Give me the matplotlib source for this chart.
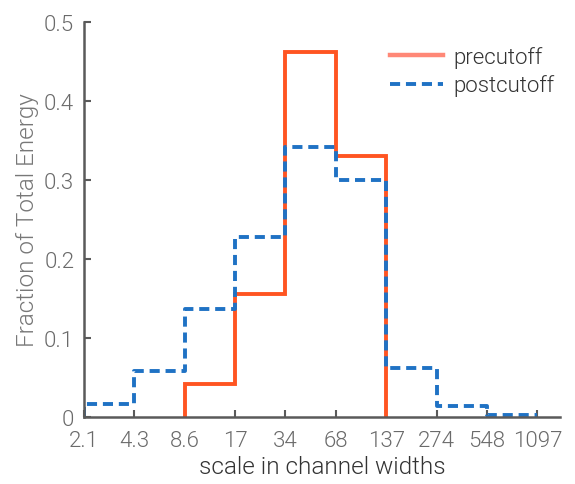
import matplotlib
matplotlib.use("Agg")
import matplotlib.pyplot as plt
import numpy as np

# bin edges (channel widths) and energy fractions per bin
edges = ["2.1", "4.3", "8.6", "17", "34", "68", "137", "274", "548", "1097"]
precutoff = [0, 0, 0.042, 0.156, 0.462, 0.330, 0, 0, 0]
postcutoff = [0.017, 0.058, 0.137, 0.228, 0.341, 0.300, 0.062, 0.014, 0.002]

plt.rcParams['font.family'] = ['Roboto', 'DejaVu Sans']
grey = "#5a5a5a"
W = 300  # light weight

fig = plt.figure(figsize=(5.75, 4.85), dpi=100)
ax = fig.add_axes([0.146, 0.138, 0.828, 0.815])

pos = np.arange(len(edges))

# precutoff: rises at 8.6, drops at 137
xr = [2, 2, 3, 3, 4, 4, 5, 5, 6, 6]
yr = [0, precutoff[2], precutoff[2], precutoff[3], precutoff[3],
      precutoff[4], precutoff[4], precutoff[5], precutoff[5], 0]
ax.plot(xr, yr, color="#ff5522", lw=2.8, solid_joinstyle="miter")

xb = [0]
yb = [0]
for i, v in enumerate(postcutoff):
    xb += [i, i + 1]
    yb += [v, v]
ax.plot(xb, yb, color="#1f72c4", lw=2.8, dashes=[2.6, 1.5])

# legend handles
ax.plot([], [], color="#ff8877", lw=3.2, label="precutoff")
ax.plot([], [], color="#1f72c4", lw=2.8, dashes=[2.6, 1.5], label="postcutoff")
h, l = ax.get_legend_handles_labels()
leg = ax.legend(h[-2:], l[-2:], loc="upper right", bbox_to_anchor=(1.03, 0.99),
                frameon=False, fontsize=16, handlelength=2.4, handletextpad=0.45,
                labelspacing=0.3)
for t in leg.get_texts():
    t.set_color("#333333")
    t.set_fontweight(W)

ax.set_xlim(0, 9.45)
ax.set_ylim(0, 0.5)
ax.set_xticks(pos)
ax.set_xticklabels(edges)
ax.set_yticks([0, 0.1, 0.2, 0.3, 0.4, 0.5])
ax.set_yticklabels(["0", "0.1", "0.2", "0.3", "0.4", "0.5"])
ax.tick_params(direction="in", length=5, width=1.5, color=grey,
               labelsize=16, labelcolor="#6a6a6a")
ax.tick_params(axis="x", pad=9)
ax.tick_params(axis="y", pad=7)
for lab in ax.get_xticklabels() + ax.get_yticklabels():
    lab.set_fontweight(W)

for s in ["top", "right"]:
    ax.spines[s].set_visible(False)
for s in ["left", "bottom"]:
    ax.spines[s].set_color(grey)
    ax.spines[s].set_linewidth(1.8)

ax.set_xlabel("scale in channel widths", fontsize=17.5, color="#333333",
              fontweight=W, labelpad=3)
ax.set_ylabel("Fraction of Total Energy", fontsize=17.5, color="#777777",
              fontweight=W, labelpad=4)

fig.savefig("out.png", dpi=100)
